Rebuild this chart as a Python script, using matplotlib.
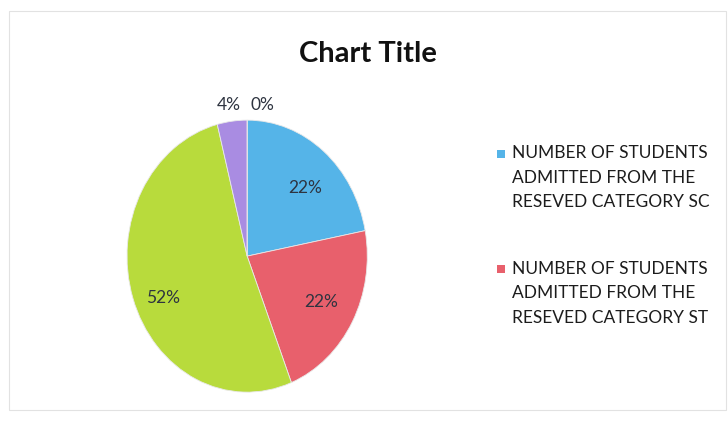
import matplotlib.pyplot as plt
from matplotlib.patches import Rectangle

# pie data (clockwise from 12 o'clock)
labels = ['NUMBER OF STUDENTS\nADMITTED FROM THE\nRESEVED CATEGORY SC',
          'NUMBER OF STUDENTS\nADMITTED FROM THE\nRESEVED CATEGORY ST',
          'OTHERS',
          'OBC',
          'NONE']
values = [22, 22, 52, 4, 0]
colors = ['#55b4e8', '#e8606c', '#b8db3c', '#a98ce2', '#f0a050']

plt.rcParams['font.family'] = ['Lato', 'DejaVu Sans']

W, H = 728, 423
fig = plt.figure(figsize=(W / 100, H / 100), dpi=100)
fig.patch.set_facecolor('white')

# faint frame of the chart area
fig.patches.append(Rectangle((0.012, 0.03), 0.985, 0.945, transform=fig.transFigure,
                             fill=False, edgecolor='#e2e2e2', linewidth=0.8))

fig.text(0.506, 0.872, 'Chart Title', ha='center', va='center',
         fontsize=21, fontweight='bold', color='#111111')

ax = fig.add_axes([0.1745, 0.073, 0.33, 0.643])
wedges, texts, autotexts = ax.pie(values, colors=colors, startangle=90, counterclock=False,
                                  autopct='%.0f%%', pctdistance=0.7,
                                  wedgeprops=dict(linewidth=0.6, edgecolor='#e8e8e8'),
                                  textprops=dict(fontsize=12.5, color='#2e3440'))
ax.set_aspect('auto')
ax.set_xlim(-1.0, 1.0)
ax.set_ylim(-1.0, 1.0)

# small slices: labels outside, above the pie
autotexts[3].set_position((-0.15, 1.11))
autotexts[4].set_position((0.13, 1.11))
autotexts[2].set_position((-0.70, -0.31))
autotexts[0].set_position((0.48, 0.50))

# legend drawn by hand: only the first two entries are visible
first_base = 158.5   # px from top, baseline of first line
entry_pitch = 115.5
line_pitch = 24.3
for i in range(2):
    base = first_base + i * entry_pitch
    fig.patches.append(Rectangle((497 / W, 1 - (base - 1) / H), 8 / W, 8 / H,
                                 transform=fig.transFigure, facecolor=colors[i],
                                 edgecolor='none'))
    for j, line in enumerate(labels[i].split('\n')):
        fig.text(512 / W, 1 - (base + j * line_pitch) / H, line, ha='left',
                 va='baseline', fontsize=12.5, color='#1c1c1c')

fig.savefig('out.png', dpi=100, facecolor='white')
